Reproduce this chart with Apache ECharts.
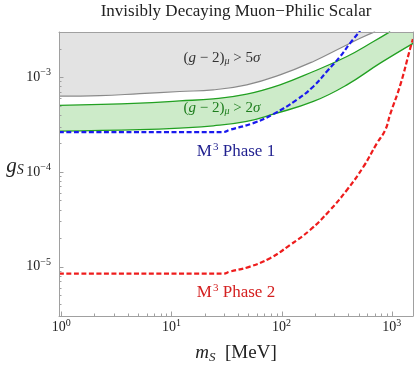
<!DOCTYPE html>
<html>
<head>
<meta charset="utf-8">
<script src="https://cdn.jsdelivr.net/npm/echarts@6/dist/echarts.min.js"></script>
<style>
html, body { margin: 0; padding: 0; background: #fff; }
#chart { width: 414px; height: 367px; }
</style>
</head>
<body>
<div id="chart"></div>
<script>
// axis ranges (log scales)
var xMin = 0.955, xMax = 1560;
var yMin = 3.0e-6, yMax = 3.0e-3;
var xMajorTicks = [1, 10, 100, 1000];
var yMajorTicks = [1e-5, 1e-4, 1e-3];

// (g-2)_mu > 5 sigma boundary  [m_S in MeV, g_S]
var sigma5Line = [[0.955, 6.30e-4], [2.24, 6.38e-4], [5.17, 6.70e-4], [11.9, 7.06e-4], [24, 7.35e-4],
  [48.3, 8.30e-4], [96.9, 1.057e-3], [194.5, 1.466e-3], [340, 2.02e-3], [517, 2.58e-3], [708, 3.03e-3]];
// (g-2)_mu > 2 sigma band edges
var sigma2Upper = [[0.955, 5.03e-4], [5.17, 5.32e-4], [11.9, 5.62e-4], [24, 5.90e-4], [48.3, 6.62e-4],
  [96.9, 8.30e-4], [194.5, 1.148e-3], [392, 1.652e-3], [683, 2.38e-3], [969, 3.03e-3]];
var sigma2Lower = [[0.955, 2.69e-4], [5.17, 2.79e-4], [11.9, 2.90e-4], [24, 3.06e-4], [48.3, 3.41e-4],
  [84.2, 4.07e-4], [194.5, 5.54e-4], [392, 8.30e-4], [786, 1.406e-3], [1578, 2.29e-3]];
// M3 projections
var phase1 = [[0.955, 2.63e-4], [29.4, 2.63e-4], [34, 2.78e-4], [55.4, 3.27e-4], [84.2, 4.07e-4],
  [137.4, 5.77e-4], [194.5, 7.98e-4], [257.6, 1.148e-3], [340, 1.652e-3], [419.6, 2.29e-3], [517, 3.08e-3]];
var phase2 = [[0.955, 8.41e-6], [29.4, 8.41e-6], [34, 8.83e-6], [51.7, 9.98e-6], [78.6, 1.224e-5],
  [119.5, 1.69e-5], [181.6, 2.43e-5], [276, 3.95e-5], [392, 6.43e-5], [554, 1.133e-4], [733, 2.0e-4],
  [873, 2.76e-4], [969, 4.07e-4], [1195, 8.24e-4], [1473, 2.02e-3], [1558, 2.52e-3]];

var serif = '"Liberation Serif", "DejaVu Serif", serif';
var frameColor = '#a0a0a0';

// minor ticks 2..9 per decade
var xMinorTicks = [], yMinorTicks = [];
for (var n = 0; n <= 3; n++) {
  for (var k = 2; k <= 9; k++) {
    var v = k * Math.pow(10, n);
    if (v > xMin && v < xMax) xMinorTicks.push(v);
  }
}
for (var n2 = -6; n2 <= -3; n2++) {
  for (var k2 = 2; k2 <= 9; k2++) {
    var w = k2 * Math.pow(10, n2);
    if (w > yMin * 1.001 && w < yMax * 0.999) yMinorTicks.push(w);
  }
}

var chart = echarts.init(document.getElementById('chart'));

function decadeLabel(v) {
  var l = Math.log10(v);
  var n = Math.round(l);
  if (Math.abs(l - n) > 1e-3) return '';
  return '{b|10}{s|' + String(n).replace('-', '\u2212') + '}';
}
var labelRich = {
  b: { fontFamily: serif, fontSize: 14, color: '#222' },
  s: { fontFamily: serif, fontSize: 10, color: '#222', padding: [0, 0, 9, 0] }
};

function tickSeries(vals, isX, len) {
  return {
    type: 'custom',
    silent: true,
    z: 12,
    data: vals.map(function (v) { return isX ? [v, yMin] : [xMin, v]; }),
    renderItem: function (params, api) {
      var p = api.coord([api.value(0), api.value(1)]);
      if (isX) {
        var x = Math.round(p[0]) + 0.5;
        return { type: 'line', shape: { x1: x, y1: p[1], x2: x, y2: p[1] - len },
          style: { stroke: frameColor, lineWidth: 1 } };
      }
      var y = Math.round(p[1]) + 0.5;
      return { type: 'line', shape: { x1: p[0], y1: y, x2: p[0] + len, y2: y },
        style: { stroke: frameColor, lineWidth: 1 } };
    }
  };
}

function regionSeries(fill, pointsFn) {
  return {
    type: 'custom',
    silent: true,
    clip: true,
    z: 1,
    data: [[xMin, yMin]],
    renderItem: function (params, api) {
      var pts = pointsFn().map(function (d) { return api.coord(d); });
      return { type: 'polygon', shape: { points: pts, smooth: 0 }, style: { fill: fill, stroke: null } };
    }
  };
}

function lineSeries(data, color, width, dashed) {
  return {
    type: 'line',
    data: data,
    showSymbol: false,
    smooth: 0.45,
    clip: true,
    silent: true,
    z: dashed ? 5 : 3,
    lineStyle: { color: color, width: width, type: dashed ? [5, 2.5] : 'solid' }
  };
}

var option = {
  animation: false,
  backgroundColor: '#fff',
  grid: { left: 59, right: 1, top: 32, bottom: 51 },
  xAxis: [{
    type: 'log', min: xMin, max: xMax, z: 10,
    axisLine: { show: true, lineStyle: { color: frameColor, width: 1 } },
    axisTick: { show: false },
    splitLine: { show: false },
    axisLabel: { margin: 2, formatter: decadeLabel, rich: labelRich, showMinLabel: false, showMaxLabel: false }
  }, {
    type: 'log', min: xMin, max: xMax, position: 'top', z: 10,
    axisLine: { show: true, lineStyle: { color: frameColor, width: 1 } },
    axisTick: { show: false }, axisLabel: { show: false }, splitLine: { show: false }
  }],
  yAxis: [{
    type: 'log', min: yMin, max: yMax, z: 10,
    axisLine: { show: true, lineStyle: { color: frameColor, width: 1 } },
    axisTick: { show: false },
    splitLine: { show: false },
    axisLabel: { margin: 8, formatter: decadeLabel, rich: labelRich, showMinLabel: false, showMaxLabel: false }
  }, {
    type: 'log', min: yMin, max: yMax, position: 'right', z: 10,
    axisLine: { show: true, lineStyle: { color: frameColor, width: 1 } },
    axisTick: { show: false }, axisLabel: { show: false }, splitLine: { show: false }
  }],
  graphic: [
    { type: 'text', x: 236, y: 12, silent: true,
      style: { text: 'Invisibly Decaying Muon\u2212Philic Scalar', fontFamily: serif, fontSize: 17,
        fill: '#222', align: 'center', verticalAlign: 'middle' } },
    { type: 'text', x: 236, y: 353, silent: true,
      style: { text: '{i|m}{sub|S}{n|  [MeV]}', align: 'center', verticalAlign: 'middle',
        rich: {
          i: { fontFamily: serif, fontSize: 19, fontStyle: 'italic', fill: '#222' },
          n: { fontFamily: serif, fontSize: 19, fill: '#222' },
          sub: { fontFamily: serif, fontSize: 13, fontStyle: 'italic', fill: '#222', padding: [9, 0, 0, 0] }
        } } },
    { type: 'text', x: 15, y: 166, silent: true,
      style: { text: '{i|g}{sub|S}', align: 'center', verticalAlign: 'middle',
        rich: {
          i: { fontFamily: serif, fontSize: 21, fontStyle: 'italic', fill: '#222' },
          sub: { fontFamily: serif, fontSize: 14, fontStyle: 'italic', fill: '#222', padding: [9, 0, 0, 0] }
        } } },
    { type: 'text', x: 222, y: 58, silent: true, z: 20,
      style: { text: '{n|(}{i|g}{n| \u2212 2)}{sub|\u03bc}{n| > 5}{i|\u03c3}', align: 'center', verticalAlign: 'middle',
        rich: {
          n: { fontFamily: serif, fontSize: 15, fill: '#333' },
          i: { fontFamily: serif, fontSize: 15, fontStyle: 'italic', fill: '#333' },
          sub: { fontFamily: serif, fontSize: 10, fontStyle: 'italic', fill: '#333', padding: [7, 0, 0, 0] }
        } } },
    { type: 'text', x: 222, y: 108, silent: true, z: 20,
      style: { text: '{n|(}{i|g}{n| \u2212 2)}{sub|\u03bc}{n| > 2}{i|\u03c3}', align: 'center', verticalAlign: 'middle',
        rich: {
          n: { fontFamily: serif, fontSize: 15, fill: '#1d7d1d' },
          i: { fontFamily: serif, fontSize: 15, fontStyle: 'italic', fill: '#1d7d1d' },
          sub: { fontFamily: serif, fontSize: 10, fontStyle: 'italic', fill: '#1d7d1d', padding: [7, 0, 0, 0] }
        } } },
    { type: 'text', x: 236, y: 152, silent: true, z: 20,
      style: { text: '{n|M}{sup|3}{n| Phase 1}', align: 'center', verticalAlign: 'middle',
        rich: {
          n: { fontFamily: serif, fontSize: 17, fill: '#1f1f8f' },
          sup: { fontFamily: serif, fontSize: 11, fill: '#1f1f8f', padding: [0, 0, 9, 1] }
        } } },
    { type: 'text', x: 236, y: 293, silent: true, z: 20,
      style: { text: '{n|M}{sup|3}{n| Phase 2}', align: 'center', verticalAlign: 'middle',
        rich: {
          n: { fontFamily: serif, fontSize: 17, fill: '#d42020' },
          sup: { fontFamily: serif, fontSize: 11, fill: '#d42020', padding: [0, 0, 9, 1] }
        } } }
  ],
  series: [
    regionSeries('#e3e3e3', function () {
      return sigma5Line.concat([[xMin, yMax]]);
    }),
    regionSeries('#cdebc9', function () {
      return sigma2Upper.concat([[xMax, yMax]]).concat(sigma2Lower.slice().reverse());
    }),
    lineSeries(sigma5Line, '#8a8a8a', 1.2, false),
    lineSeries(sigma2Upper, '#22a022', 1.3, false),
    lineSeries(sigma2Lower, '#22a022', 1.3, false),
    lineSeries(phase1, '#1a1aee', 2.2, true),
    lineSeries(phase2, '#ee1c1c', 2.2, true),
    tickSeries(xMajorTicks, true, 4.5),
    tickSeries(xMinorTicks, true, 2.5),
    tickSeries(yMajorTicks, false, 4.5),
    tickSeries(yMinorTicks, false, 2.5)
  ]
};
chart.setOption(option);
</script>
</body>
</html>
